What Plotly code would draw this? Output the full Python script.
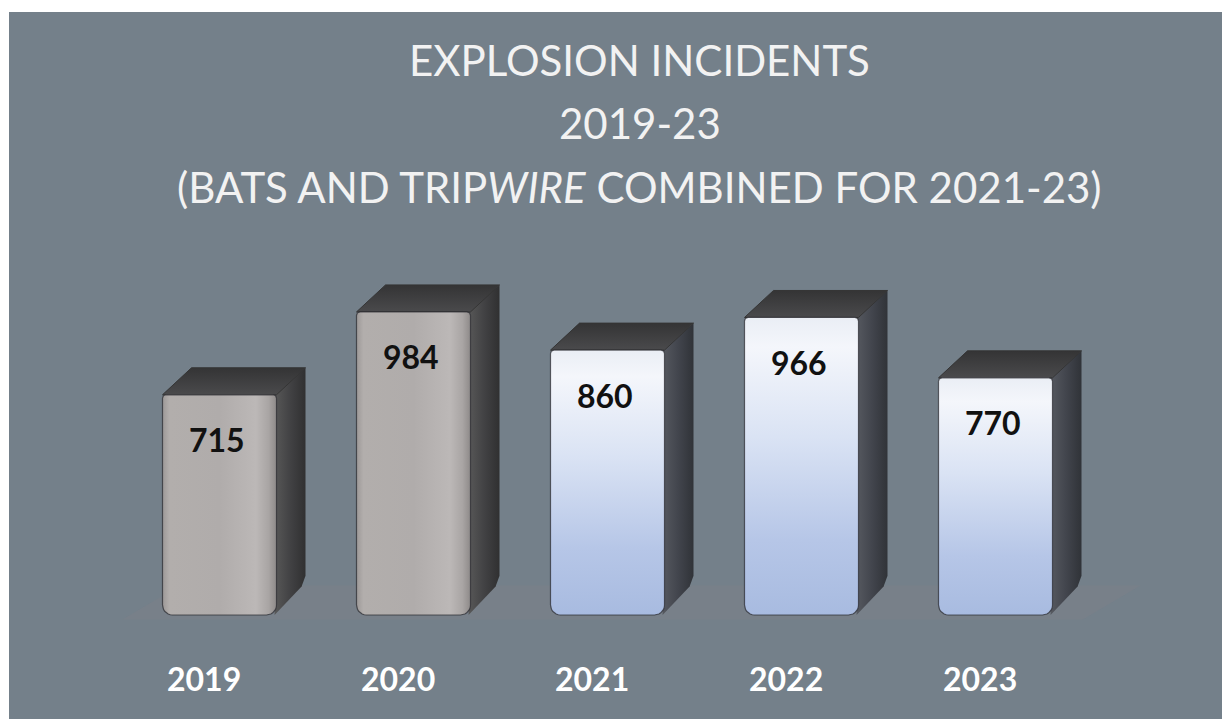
import plotly.graph_objects as go
import numpy as np

# ---- data ----
years = ["2019", "2020", "2021", "2022", "2023"]
incidents = [715, 984, 860, 966, 770]
combined = [False, False, True, True, True]   # BATS and TRIPwire combined (2021-23)

title_lines = ["EXPLOSION INCIDENTS", "2019-23",
               "(BATS AND TRIP<i>WIRE</i> COMBINED FOR 2021-23)"]

# ---- style / geometry ----
BG = "#74808a"
PX_X = 194.0          # px per category unit
PX_Y = 0.308          # px per data unit
HALF_W = 57 / PX_X
DX = 29 / PX_X
DY = 27 / PX_Y
RX = 10 / PX_X
RY = 10 / PX_Y
PAGE_OFF = 8          # body margin of the html page
PLOT_L, PLOT_T = 9, 12   # page position of the plot area
PLOT_W = 1230 - (PLOT_L - PAGE_OFF)
PLOT_H = 719 - (PLOT_T - PAGE_OFF)

fig = go.Figure()

def rounded_rect(xl, xr, yb, yt, rx, ry, rtop=0.35):
    xs, ys = [], []
    n = 8
    for t in np.linspace(np.pi, 1.5 * np.pi, n):
        xs.append(xl + rx + rx * np.cos(t)); ys.append(yb + ry + ry * np.sin(t))
    for t in np.linspace(1.5 * np.pi, 2 * np.pi, n):
        xs.append(xr - rx + rx * np.cos(t)); ys.append(yb + ry + ry * np.sin(t))
    rx2, ry2 = rx * rtop, ry * rtop
    for t in np.linspace(0, 0.5 * np.pi, n):
        xs.append(xr - rx2 + rx2 * np.cos(t)); ys.append(yt - ry2 + ry2 * np.sin(t))
    for t in np.linspace(0.5 * np.pi, np.pi, n):
        xs.append(xl + rx2 + rx2 * np.cos(t)); ys.append(yt - ry2 + ry2 * np.sin(t))
    xs.append(xs[0]); ys.append(ys[0])
    return xs, ys

noline = dict(width=0, color="rgba(0,0,0,0)")

# floor shading
fig.add_trace(go.Scatter(
    x=[-0.5, 4.45, 4.45 + 2 * DX, -0.5 + 2 * DX, -0.5],
    y=[-15, -15, DY * 1.1, DY * 1.1, -15],
    fill="toself", mode="lines", line=noline,
    fillcolor="rgba(135,128,138,0.22)", hoverinfo="skip", showlegend=False))

for i, (yr, v, comb) in enumerate(zip(years, incidents, combined)):
    xl, xr = i - HALF_W, i + HALF_W
    # side face
    fig.add_trace(go.Scatter(
        x=[xr - 0.01, xr + DX, xr + DX, xr + DX - 0.02, xr - 0.01, xr - 0.01],
        y=[v, v + DY, DY + 40, DY + 5, 0, v],
        fill="toself", mode="lines", line=noline,
        fillgradient=dict(type="horizontal",
                          colorscale=[[0, "#585858"], [0.5, "#424244"], [1, "#303031"]]
                          if not comb else
                          [[0, "#565960"], [0.5, "#42454d"], [1, "#303338"]]),
        hoverinfo="skip", showlegend=False))
    # top face
    fig.add_trace(go.Scatter(
        x=[xl, xr, xr + DX, xl + DX, xl],
        y=[v, v, v + DY, v + DY, v],
        fill="toself", mode="lines", line=dict(width=1, color="#353535"),
        fillgradient=dict(type="vertical",
                          colorscale=[[0, "#4a4a4c"], [1, "#343435"]]),
        hoverinfo="skip", showlegend=False))
    # front face
    fx, fy = rounded_rect(xl, xr, 0, v, RX, RY)
    if comb:
        grad = dict(type="vertical",
                    colorscale=[[0, "#a8bbe0"], [0.25, "#b6c6e7"], [0.6, "#dae3f4"],
                                [0.9, "#f4f6fb"], [1, "#eaeef5"]])
    else:
        grad = dict(type="horizontal",
                    colorscale=[[0, "#9c9897"], [0.06, "#b2aeac"], [0.5, "#b0acab"],
                                [0.82, "#bcb8b7"], [0.93, "#a9a5a4"], [1, "#8e8a89"]])
    fig.add_trace(go.Scatter(
        x=fx, y=fy, fill="toself", mode="lines",
        line=dict(width=1.2, color="rgba(40,40,45,0.7)"),
        fillgradient=grad, hoverinfo="skip", showlegend=False))
    # value label
    fig.add_annotation(x=i, y=v, text=f"<b>{v}</b>", showarrow=False,
                       yshift=-45, xshift=-3, xanchor="center", yanchor="middle",
                       font=dict(family="Lato", size=32, color="#111111"))
    # category label
    fig.add_annotation(x=i, y=0, text=f"<b>{yr}</b>", showarrow=False,
                       yshift=-63, xshift=-16, xanchor="center", yanchor="middle",
                       font=dict(family="Lato", size=32, color="#ffffff"))

ys_title = [60, 123, 187]
for line, py in zip(title_lines, ys_title):
    fig.add_annotation(xref="paper", yref="paper",
                       x=(640 - PLOT_L) / PLOT_W, y=(PLOT_T + PLOT_H - py) / PLOT_H,
                       xanchor="center", yanchor="middle",
                       text=line, showarrow=False,
                       font=dict(family="Lato", size=42, color="#f2f2f2"))

x0 = -(219.5 - PLOT_L) / PX_X
y1 = (615 - PLOT_T) / PX_Y
fig.update_layout(
    width=1230, height=719,
    margin=dict(l=PLOT_L - PAGE_OFF, r=0, t=PLOT_T - PAGE_OFF, b=0),
    paper_bgcolor="#ffffff", plot_bgcolor=BG,
    xaxis=dict(range=[x0, x0 + PLOT_W / PX_X], visible=False, fixedrange=True),
    yaxis=dict(range=[y1 - PLOT_H / PX_Y, y1], visible=False, fixedrange=True),
    showlegend=False,
)

fig.write_html("out.html")
